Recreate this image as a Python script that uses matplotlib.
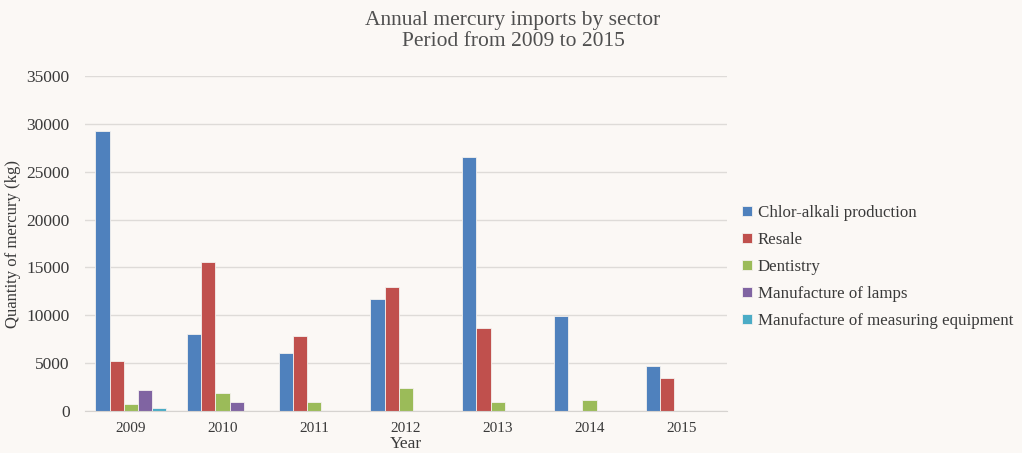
import numpy as np
import matplotlib.pyplot as plt

years = ['2009', '2010', '2011', '2012', '2013', '2014', '2015']
sectors = ['Chlor-alkali production', 'Resale', 'Dentistry',
           'Manufacture of lamps', 'Manufacture of measuring equipment']
chlor_alkali = [29250, 8020, 6030, 11720, 26540, 9970, 4670]
resale = [5260, 15520, 7850, 12970, 8650, 0, 3450]
dentistry = [700, 1850, 900, 2400, 980, 1110, 0]
lamps = [2230, 900, 0, 0, 0, 0, 0]
measuring = [350, 0, 0, 0, 0, 0, 0]
colors = ['#4F81BD', '#C0504D', '#9BBB59', '#8064A2', '#4BACC6']

plt.rcParams['font.family'] = ['Liberation Serif', 'DejaVu Serif']
bg = '#FBF8F5'

fig = plt.figure(figsize=(10.22, 4.53), dpi=100, facecolor=bg)
ax = fig.add_axes([85 / 1022, 1 - 411 / 453, 642 / 1022, 335 / 453])
ax.set_facecolor(bg)

x = np.arange(len(years))
w = 0.155
series = [chlor_alkali, resale, dentistry, lamps, measuring]
for i, (vals, name, c) in enumerate(zip(series, sectors, colors)):
    ax.bar(x + (i - 2) * w, vals, w, color=c, label=name,
           edgecolor='#F4F1EE', linewidth=0.6)

ax.set_xlim(-0.5, len(years) - 0.5)
ax.set_ylim(0, 35000)
ax.set_yticks(range(0, 35001, 5000))
ax.set_xticks(x)
ax.set_xticklabels(years)
ax.grid(axis='y', color='#DEDBD8', linewidth=1)
ax.set_axisbelow(True)
for s in ['top', 'right', 'left']:
    ax.spines[s].set_visible(False)
ax.spines['bottom'].set_color('#D6D3D0')
ax.tick_params(length=0, colors='#3A3A3A')
ax.tick_params(axis='y', pad=11, labelsize=12.5)
ax.tick_params(axis='x', pad=8, labelsize=11)
ax.set_ylabel('Quantity of mercury (kg)', fontsize=12, color='#3A3A3A', labelpad=4)
ax.set_xlabel('Year', fontsize=12.5, color='#3A3A3A', labelpad=1)

fig.text(0.502, 0.975, 'Annual mercury imports by sector\nPeriod from 2009 to 2015',
         ha='center', va='top', fontsize=15.5, color='#505050', linespacing=1.1)

leg = ax.legend(loc='center left', bbox_to_anchor=(1.0, 0.43), frameon=False,
                fontsize=12.2, handlelength=0.6, handleheight=0.6,
                handletextpad=0.3, labelspacing=0.65, labelcolor='#3A3A3A')

fig.savefig('out.png', dpi=100, facecolor=bg)
